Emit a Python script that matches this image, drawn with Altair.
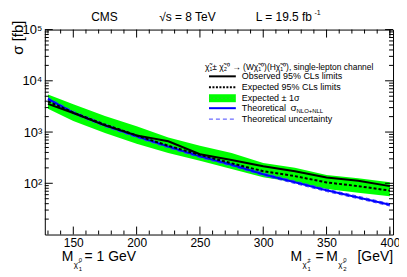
import altair as alt
import pandas as pd

FONT = "Liberation Sans"

# ---- data ----
mass = [130, 150, 175, 200, 225, 250, 275, 300, 325, 350, 375, 400]
observed = [3550, 2350, 1350, 860, 660, 370, 285, 215, 172, 130, 112, 88]
expected = [3950, 2400, 1400, 860, 540, 360, 245, 172, 138, 104, 88, 72]
band_up = [5400, 3500, 2050, 1300, 780, 540, 390, 250, 200, 145, 125, 105]
band_lo = [2860, 1650, 960, 590, 390, 275, 190, 131, 105, 77, 65, 56]
theory = [4450, 2400, 1350, 830, 520, 335, 230, 150, 105, 73, 53, 38]
theory_up = [4700, 2540, 1430, 880, 550, 355, 244, 159, 111, 77, 56, 40]
theory_lo = [4200, 2260, 1270, 780, 490, 315, 216, 141, 99, 69, 50, 36]

x_major = [150, 200, 250, 300, 350, 400]
x_minor = [130, 140, 160, 170, 180, 190, 210, 220, 230, 240, 260, 270, 280, 290,
           310, 320, 330, 340, 360, 370, 380, 390, 400]
y_major = [100, 1000, 10000, 100000]
y_minor = [m * 10 ** e for e in range(1, 5) for m in range(2, 10)]

W, H = 350, 206

df = pd.DataFrame({
    "mass": mass, "observed": observed, "expected": expected,
    "up": band_up, "lo": band_lo, "theory": theory,
    "theory_up": theory_up, "theory_lo": theory_lo,
})

xscale = alt.Scale(domain=[127.5, 402.5], nice=False, zero=False)
yscale = alt.Scale(type="log", domain=[10, 100000], nice=False)
xaxis = alt.Axis(values=x_major, ticks=False, domain=False, grid=False,
                 labelFontSize=12, labelPadding=3, labelFont=FONT,
                 labelColor="black", title=None, labelFlush=False)
yaxis = alt.Axis(values=y_major, ticks=False, domain=False, grid=False,
                 labelFontSize=13, labelPadding=3, labelFont=FONT,
                 labelColor="black", title=None,
                 labelExpr="datum.value == 100 ? '10²' : datum.value == 1000 ? '10³' : datum.value == 10000 ? '10⁴' : '10⁵'")


def X(f):
    return alt.X(f + ":Q", scale=xscale, axis=xaxis)


def Y(f):
    return alt.Y(f + ":Q", scale=yscale, axis=yaxis)


base = alt.Chart(df)
band = base.mark_area(color="#00ff00", opacity=1).encode(x=X("mass"), y=Y("lo"), y2="up")
exp_line = base.mark_line(color="black", strokeWidth=2, strokeDash=[3, 2]).encode(x=X("mass"), y=Y("expected"))
obs_line = base.mark_line(color="black", strokeWidth=2).encode(x=X("mass"), y=Y("observed"))
th_line = base.mark_line(color="#0000ff", strokeWidth=2).encode(x=X("mass"), y=Y("theory"))
th_up = base.mark_line(color="#4444ff", strokeWidth=1, strokeDash=[4, 3]).encode(x=X("mass"), y=Y("theory_up"))
th_lo = base.mark_line(color="#4444ff", strokeWidth=1, strokeDash=[4, 3]).encode(x=X("mass"), y=Y("theory_lo"))

xmaj = pd.DataFrame({"pos": x_major})
xmin = pd.DataFrame({"pos": x_minor})
ymaj = pd.DataFrame({"pos": y_major})
ymin = pd.DataFrame({"pos": y_minor})

ticks = [
    alt.Chart(xmaj).mark_rule(color="black").encode(x=X("pos"), y=alt.value(H), y2=alt.value(H - 8)),
    alt.Chart(xmaj).mark_rule(color="black").encode(x=X("pos"), y=alt.value(0), y2=alt.value(8)),
    alt.Chart(xmin).mark_rule(color="black").encode(x=X("pos"), y=alt.value(H), y2=alt.value(H - 4)),
    alt.Chart(xmin).mark_rule(color="black").encode(x=X("pos"), y=alt.value(0), y2=alt.value(4)),
    alt.Chart(ymaj).mark_rule(color="black").encode(y=Y("pos"), x=alt.value(0), x2=alt.value(8)),
    alt.Chart(ymaj).mark_rule(color="black").encode(y=Y("pos"), x=alt.value(W), x2=alt.value(W - 8)),
    alt.Chart(ymin).mark_rule(color="black").encode(y=Y("pos"), x=alt.value(0), x2=alt.value(4)),
    alt.Chart(ymin).mark_rule(color="black").encode(y=Y("pos"), x=alt.value(W), x2=alt.value(W - 4)),
]

one = pd.DataFrame({"a": [0]})


def txt(s, x, y, size=9, align="left", baseline="middle", angle=None):
    kw = dict(text=s, fontSize=size, font=FONT, color="black", align=align, baseline=baseline)
    if angle is not None:
        kw["angle"] = angle
    return alt.Chart(one).mark_text(**kw).encode(x=alt.value(x), y=alt.value(y))


def hline(x1, x2, y, color, width, dash=None):
    kw = dict(color=color, strokeWidth=width)
    if dash:
        kw["strokeDash"] = dash
    return alt.Chart(one).mark_rule(**kw).encode(x=alt.value(x1), x2=alt.value(x2), y=alt.value(y))


# legend (plot-local pixel positions)
LX1, LX2, TX = 165, 192, 198
rows = [47, 58, 69, 79, 90]
legend = [
    txt("χ̃₁± χ̃₂⁰ → (Wχ̃₁⁰)(Hχ̃₁⁰), single-lepton channel", 161, 38, size=8.5),
    hline(LX1, LX2, rows[0], "black", 2),
    txt("Observed 95% CLs limits", TX, rows[0]),
    hline(LX1, LX2, rows[1], "black", 2, [2, 1.5]),
    txt("Expected 95% CLs limits", TX, rows[1]),
    alt.Chart(one).mark_rect(color="#00ff00").encode(
        x=alt.value(LX1), x2=alt.value(LX2), y=alt.value(rows[2] - 4), y2=alt.value(rows[2] + 4)),
    hline(LX1, LX2, rows[2], "#33cc33", 1, [2, 2]),
    txt("Expected ± 1σ", TX, rows[2]),
    hline(LX1, LX2, rows[3], "#0000ff", 2),
    txt("Theoretical", TX, rows[3]),
    txt("σ", TX + 49, rows[3], size=10),
    txt("NLO+NLL", TX + 55, rows[3] + 3, size=6),
    hline(LX1, LX2, rows[4], "#4444ff", 1, [4, 3]),
    txt("Theoretical uncertainty", TX, rows[4]),
]

# titles / annotations (plot-local pixel positions)
annot = [
    txt("CMS", 60, -13, size=12, align="center"),
    txt("√s = 8 TeV", 115, -13, size=12),
    txt("L = 19.5 fb", 212, -13, size=12),
    txt("-1", 271, -17, size=7),
    txt("σ [fb]", -27, -9, size=15, align="right", angle=270),
    # x title: M_{chi1+-} = M_{chi2^0} [GeV]
    txt("M", 247, 229, size=14),
    txt("χ̃", 259, 237, size=8),
    txt("±", 264, 232, size=6),
    txt("1", 264, 241, size=6),
    txt("=", 272, 229, size=14),
    txt("M", 283, 229, size=14),
    txt("χ̃", 295, 237, size=8),
    txt("0", 300, 232, size=6),
    txt("2", 300, 241, size=6),
    txt("[GeV]", 350, 229, size=14, align="right"),
    # M_{chi1^0} = 1 GeV
    txt("M", 17, 229, size=14),
    txt("χ̃", 29, 237, size=8),
    txt("0", 34, 232, size=6),
    txt("1", 34, 241, size=6),
    txt("= 1 GeV", 40, 229, size=14),
]

chart = alt.layer(band, th_up, th_lo, th_line, exp_line, obs_line, *ticks, *legend, *annot).properties(
    width=W, height=H,
    autosize=alt.AutoSizeParams(type="none"),
    padding={"left": 37, "top": 21, "right": 6, "bottom": 40},
).configure_view(stroke="black", strokeWidth=1)

chart.save("out.html", embed_options={"renderer": "svg", "actions": False})
